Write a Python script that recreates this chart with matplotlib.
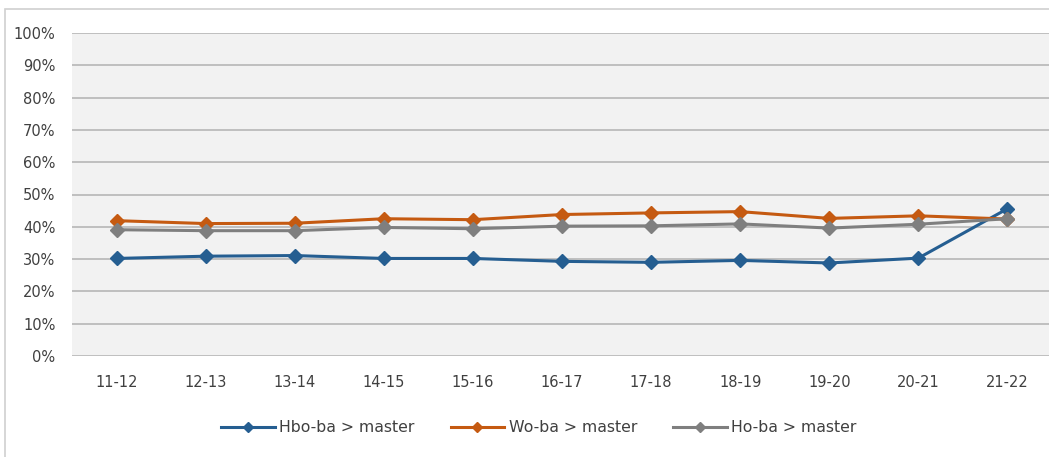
import numpy as np
import matplotlib.pyplot as plt
from matplotlib.patches import Rectangle
from matplotlib.ticker import PercentFormatter

years = ["11-12", "12-13", "13-14", "14-15", "15-16", "16-17",
         "17-18", "18-19", "19-20", "20-21", "21-22"]
hbo_ba = [30.2, 30.9, 31.1, 30.2, 30.2, 29.3, 29.0, 29.6, 28.8, 30.3, 45.6]
wo_ba = [41.9, 41.0, 41.1, 42.5, 42.2, 43.8, 44.3, 44.7, 42.6, 43.4, 42.4]
ho_ba = [39.1, 38.8, 38.8, 39.8, 39.4, 40.2, 40.3, 40.9, 39.6, 40.8, 42.5]

series = [("Hbo-ba > master", hbo_ba, "#255E91"),
          ("Wo-ba > master", wo_ba, "#C55A11"),
          ("Ho-ba > master", ho_ba, "#7F7F7F")]

plt.rcParams['font.family'] = ['DejaVu Sans']
text_col = "#404040"

fig = plt.figure(figsize=(10.49, 4.57), dpi=100)
W, H = 1049, 457

# outer chart frame (clipped on right and bottom like the screenshot)
fig.patches.append(Rectangle((5 / W, -0.1), 1.2, 1 - 9 / H + 0.1,
                             transform=fig.transFigure, fill=False,
                             edgecolor="#D0D0D0", linewidth=1.2))

ax = fig.add_axes([72 / W, 1 - 356 / H, 980 / W, 323 / H])
ax.set_facecolor("#F2F2F2")
for s in ax.spines.values():
    s.set_visible(False)

x = np.arange(len(years))
for label, vals, col in series:
    ax.plot(x, vals, color=col, linewidth=2.2, marker="D", markersize=7,
            label=label, zorder=3)

ax.set_xlim(-0.5, len(years) - 0.5)
ax.set_ylim(0, 100)
ax.set_yticks(np.arange(0, 101, 10))
ax.yaxis.set_major_formatter(PercentFormatter(decimals=0))
ax.grid(axis="y", color="#BFBFBF", linewidth=1.4)
ax.set_axisbelow(True)
ax.set_xticks(x)
ax.set_xticklabels(years)
ax.tick_params(length=0, labelsize=10.5, colors=text_col)
ax.tick_params(axis="x", pad=14)
ax.tick_params(axis="y", pad=12)

handles, labels = ax.get_legend_handles_labels()
leg = fig.legend(handles, labels, loc="center", ncol=3,
                 bbox_to_anchor=(539 / W, 1 - 428 / H), frameon=False,
                 fontsize=11.3, handlelength=3.4, columnspacing=2.3,
                 handletextpad=0.3, labelcolor=text_col)
for h in leg.legend_handles:
    h.set_markersize(5)

fig.savefig("out.png", dpi=100)
